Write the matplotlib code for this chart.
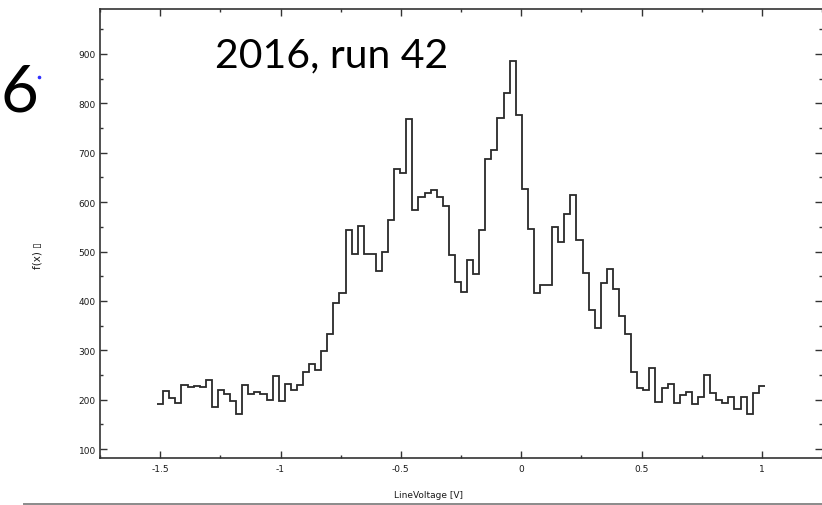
import numpy as np
import matplotlib
matplotlib.use("Agg")
from matplotlib import pyplot as plt
from matplotlib.ticker import MultipleLocator

# histogram counts, 100 bins between the edges below
bin_lo, bin_hi = -1.5125, 1.0125
counts = [191, 217, 203, 194, 229, 226, 228, 226, 240, 185,
          219, 211, 197, 171, 229, 211, 215, 211, 200, 249,
          197, 232, 220, 229, 257, 272, 261, 298, 333, 396,
          416, 543, 494, 552, 494, 494, 460, 500, 564, 667,
          658, 768, 585, 610, 618, 625, 610, 593, 492, 438,
          419, 483, 454, 543, 687, 705, 770, 820, 886, 777,
          627, 545, 416, 432, 432, 549, 520, 576, 615, 523,
          456, 382, 345, 437, 464, 425, 370, 333, 257, 223,
          220, 265, 196, 223, 232, 194, 209, 215, 191, 206,
          250, 213, 200, 194, 206, 182, 206, 171, 213, 227]
x_ticks = [-1.5, -1, -0.5, 0, 0.5, 1]
x_ticklabels = ["-1.5", "-1", "-0.5", "0", "0.5", "1"]
y_ticks = [100, 200, 300, 400, 500, 600, 700, 800, 900]

edges = np.linspace(bin_lo, bin_hi, len(counts) + 1)

fig = plt.figure(figsize=(8.22, 5.06), dpi=100)
ax = fig.add_axes([100/822, 47/506, 722/822, 449/506])

ax.stairs(counts, edges, baseline=None, color="#2a2a2a", linewidth=1.3)

ax.set_xlim(-1.75, 1.25)
ax.set_ylim(82, 991)
ax.set_xticks(x_ticks)
ax.set_xticklabels(x_ticklabels)
ax.set_yticks(y_ticks)
ax.xaxis.set_minor_locator(MultipleLocator(0.25))
ax.yaxis.set_minor_locator(MultipleLocator(50))

ax.tick_params(which="both", direction="in", top=True, right=True,
               color="#333333", width=1.0, labelsize=6.5, labelcolor="#1a1a1a")
ax.tick_params(which="major", length=5)
ax.tick_params(which="minor", length=2.5)
ax.tick_params(axis="x", pad=4)
ax.tick_params(axis="y", pad=3)

for side in ("left", "bottom", "top"):
    ax.spines[side].set_color("#333333")
    ax.spines[side].set_linewidth(1.2)
ax.spines["right"].set_visible(False)

ax.set_xlabel("LineVoltage [V]", fontsize=6.5, color="#1a1a1a")
ax.xaxis.set_label_coords(0.455, -0.072)
ax.set_ylabel("f(x) \u25af", fontsize=7.5, color="#1a1a1a")
ax.yaxis.set_label_coords(-0.08, 0.452)

fig.text(215/822, 1 - 67/506, "2016, run 42", fontsize=29.5, family="Lato",
         color="black", ha="left", va="baseline")
fig.text(1/822, 1 - 112/506, "6", fontsize=47, family="Lato",
         color="black", ha="left", va="baseline")

# small blue dot next to the slide number
fig.add_artist(plt.Line2D([39/822], [1 - 78/506], marker="o", markersize=1.6,
                          color="#3030ff", linestyle="none"))

# thin grey rule along the bottom
fig.add_artist(plt.Line2D([24/822, 1.0], [1.5/506, 1.5/506],
                          color="#8a8a8a", linewidth=1.4))

fig.savefig("out.png", dpi=100)
